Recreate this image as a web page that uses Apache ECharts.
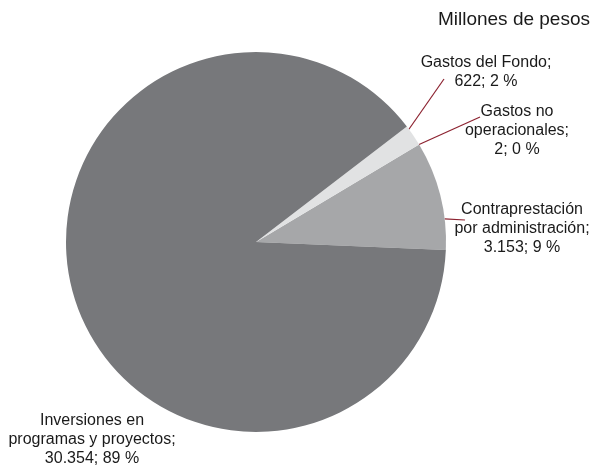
<!DOCTYPE html>
<html>
<head>
<meta charset="utf-8">
<script src="https://cdn.jsdelivr.net/npm/echarts@6/dist/echarts.min.js"></script>
<style>
html,body{margin:0;padding:0;background:#fff;}
#chart{width:599px;height:469px;}
</style>
</head>
<body>
<div id="chart"></div>
<script>
// Data (order: counter-clockwise from the right)
const categories = [
  'Contraprestación\npor administración',
  'Gastos no\noperacionales',
  'Gastos del Fondo',
  'Inversiones en\nprogramas y proyectos'
];
const values = [3153, 2, 622, 30354];
const titleText = 'Millones de pesos';

// Styling / layout (not data)
const PIE_CX = 256, PIE_CY = 242, PIE_R = 190;
const colors = ['#a6a7a9', '#c8c9cb', '#e1e2e3', '#77787b'];
const labelPos = [[522, 229], [517, 131], [486, 72], [92, 440]];
const lineEnds = [[465, 220], [480, 117], [444, 79], null];
const anchorAngles = [7, null, 36.4, null]; // degrees, where leader line touches the rim

function fmt(v) {
  return String(v).replace(/\B(?=(\d{3})+(?!\d))/g, '.');
}

const chart = echarts.init(document.getElementById('chart'), null, {renderer: 'canvas'});
const FONT = '"Liberation Sans", Arial, sans-serif';

chart.setOption({
  animation: false,
  backgroundColor: '#fff',
  title: {
    text: titleText,
    right: 4,
    top: 5,
    textStyle: {fontFamily: FONT, fontSize: 19, fontWeight: 'normal', color: '#1a1a1a'}
  },
  series: [{
    type: 'pie',
    center: [PIE_CX, PIE_CY],
    radius: PIE_R,
    clockwise: false,
    startAngle: -2.4,
    avoidLabelOverlap: false,
    percentPrecision: 0,
    itemStyle: {borderWidth: 0},
    label: {
      show: true,
      position: 'outside',
      fontFamily: FONT,
      fontSize: 16,
      lineHeight: 19,
      color: '#1a1a1a',
      align: 'center',
      formatter: function (p) {
        return p.name + ';\n' + fmt(p.value) + '; ' + p.percent + ' %';
      }
    },
    labelLine: {
      show: true,
      lineStyle: {color: '#8c2230', width: 1.2}
    },
    labelLayout: function (params) {
      const i = params.dataIndex;
      const pos = labelPos[i];
      const out = {x: pos[0], y: pos[1], align: 'center', verticalAlign: 'middle'};
      if (lineEnds[i] && params.labelLinePoints) {
        let a = params.labelLinePoints[0];
        if (anchorAngles[i] != null) {
          const t = anchorAngles[i] * Math.PI / 180;
          a = [PIE_CX + PIE_R * Math.cos(t), PIE_CY - PIE_R * Math.sin(t)];
        }
        out.labelLinePoints = [a, lineEnds[i], lineEnds[i]];
      }
      return out;
    },
    data: categories.map(function (c, i) {
      const d = {name: c, value: values[i], itemStyle: {color: colors[i]}};
      if (!lineEnds[i]) d.labelLine = {show: false};
      return d;
    })
  }]
});
</script>
</body>
</html>
